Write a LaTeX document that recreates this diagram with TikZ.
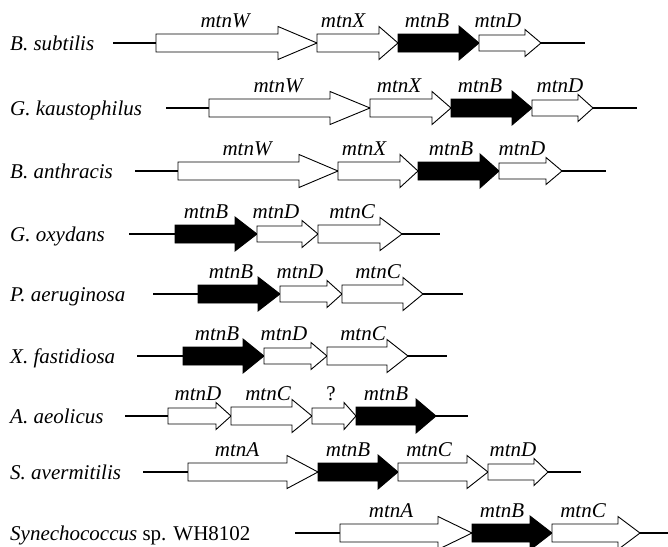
\documentclass[tikz,border=0pt]{standalone}
\usepackage{fontspec}
\setmainfont{Liberation Serif}
\begin{document}
\begin{tikzpicture}[x=1pt,y=-1pt,
  backbone/.style={line width=2.2pt},
  genebox/.style={draw=black,line width=0.9pt,line join=miter},
  genelab/.style={anchor=base,inner sep=0pt,font=\fontsize{21}{24}\selectfont\itshape},
  species/.style={anchor=base west,inner sep=0pt,font=\fontsize{21}{24}\selectfont\itshape}]
\useasboundingbox (0,0) rectangle (668,546);

% gene arrow: [fill]{row y}{start}{head start}{tip}{body half height}{head half height}
\newcommand\genearrow[7][white]{%
  \filldraw[genebox,fill=#1] ({#3},{#2-#6}) -- ({#4},{#2-#6}) -- ({#4},{#2-#7})
    -- ({#5},{#2}) -- ({#4},{#2+#7}) -- ({#4},{#2+#6}) -- ({#3},{#2+#6}) -- cycle;}
% one species row: name, y, backbone start/end
\newcommand\operonrow[5]{%
  \coordinate (#1L) at (#3,#2);
  \coordinate (#1R) at (#4,#2);
  \draw[backbone] (#1L) -- (#1R);
  \node[species] (#1name) at (10,#2+7.5) {#5};}
\newcommand\glabel[4]{\node[genelab] (#1) at (#2,#3-15.5) {#4};}

% B. subtilis
\operonrow{bs}{43}{113}{585}{B. subtilis}
\genearrow{43}{156}{278}{317}{9}{16.5}
\genearrow{43}{317}{379}{398}{9}{16.5}
\genearrow[black]{43}{398}{459}{479}{9}{17}
\genearrow{43}{479}{525}{541}{8}{13.5}
\glabel{bsW}{225}{43}{mtnW}
\glabel{bsX}{343}{43}{mtnX}
\glabel{bsB}{427}{43}{mtnB}
\glabel{bsD}{498}{43}{mtnD}

% G. kaustophilus
\operonrow{gk}{108}{166}{637}{G. kaustophilus}
\genearrow{108}{209}{330}{370}{9}{16.5}
\genearrow{108}{370}{432}{451}{9}{16.5}
\genearrow[black]{108}{451}{512}{532}{9}{17}
\genearrow{108}{532}{578}{593}{8}{13.5}
\glabel{gkW}{278}{108}{mtnW}
\glabel{gkX}{399}{108}{mtnX}
\glabel{gkB}{480}{108}{mtnB}
\glabel{gkD}{560}{108}{mtnD}

% B. anthracis
\operonrow{ba}{171}{135}{606}{B. anthracis}
\genearrow{171}{178}{299}{338}{9}{16.5}
\genearrow{171}{338}{400}{418}{9}{16.5}
\genearrow[black]{171}{418}{480}{499}{9}{17}
\genearrow{171}{499}{546}{562}{8}{13.5}
\glabel{baW}{247}{171}{mtnW}
\glabel{baX}{364}{171}{mtnX}
\glabel{baB}{451}{171}{mtnB}
\glabel{baD}{522}{171}{mtnD}

% G. oxydans
\operonrow{go}{234}{129}{440}{G. oxydans}
\genearrow[black]{234}{175}{235}{257}{9}{17}
\genearrow{234}{257}{302}{318}{8}{13.5}
\genearrow{234}{318}{380}{402}{9}{16.5}
\glabel{goB}{206}{234}{mtnB}
\glabel{goD}{276}{234}{mtnD}
\glabel{goC}{352}{234}{mtnC}

% P. aeruginosa
\operonrow{pa}{294}{153}{463}{P. aeruginosa}
\genearrow[black]{294}{198}{258}{280}{9}{17}
\genearrow{294}{280}{327}{342}{8}{13.5}
\genearrow{294}{342}{403}{423}{9}{16.5}
\glabel{paB}{231}{294}{mtnB}
\glabel{paD}{300}{294}{mtnD}
\glabel{paC}{378}{294}{mtnC}

% X. fastidiosa
\operonrow{xf}{356}{137}{447}{X. fastidiosa}
\genearrow[black]{356}{183}{243}{264}{9}{17}
\genearrow{356}{264}{311}{327}{8}{13.5}
\genearrow{356}{327}{387}{408}{9}{16.5}
\glabel{xfB}{217}{356}{mtnB}
\glabel{xfD}{284}{356}{mtnD}
\glabel{xfC}{363}{356}{mtnC}

% A. aeolicus
\operonrow{aa}{416}{125}{468}{A. aeolicus}
\genearrow{416}{168}{216}{231}{8}{13.5}
\genearrow{416}{231}{292}{312}{9}{16.5}
\genearrow{416}{312}{344}{356}{8}{13.5}
\genearrow[black]{416}{356}{416}{436}{9}{17}
\glabel{aaD}{198}{416}{mtnD}
\glabel{aaC}{268}{416}{mtnC}
\node[genelab,font=\fontsize{21}{24}\selectfont] (aaQ) at (331,416-15.5) {?};
\glabel{aaB}{386}{416}{mtnB}

% S. avermitilis
\operonrow{sa}{472}{143}{581}{S. avermitilis}
\genearrow{472}{188}{287}{318}{9}{16.5}
\genearrow[black]{472}{318}{378}{398}{9}{17}
\genearrow{472}{398}{467}{488}{9}{16.5}
\genearrow{472}{488}{534}{548}{8}{13.5}
\glabel{saA}{237}{472}{mtnA}
\glabel{saB}{348}{472}{mtnB}
\glabel{saC}{429}{472}{mtnC}
\glabel{saD}{513}{472}{mtnD}

% Synechococcus sp. WH8102
\operonrow{sy}{533}{295}{668}{Synechococcus\upshape\ sp. WH8102}
\genearrow{533}{340}{438}{472}{9}{16.5}
\genearrow[black]{533}{472}{530}{552}{9}{17}
\genearrow{533}{552}{618}{640}{9}{16.5}
\glabel{syA}{391}{533}{mtnA}
\glabel{syB}{502}{533}{mtnB}
\glabel{syC}{583}{533}{mtnC}
\end{tikzpicture}
\end{document}
